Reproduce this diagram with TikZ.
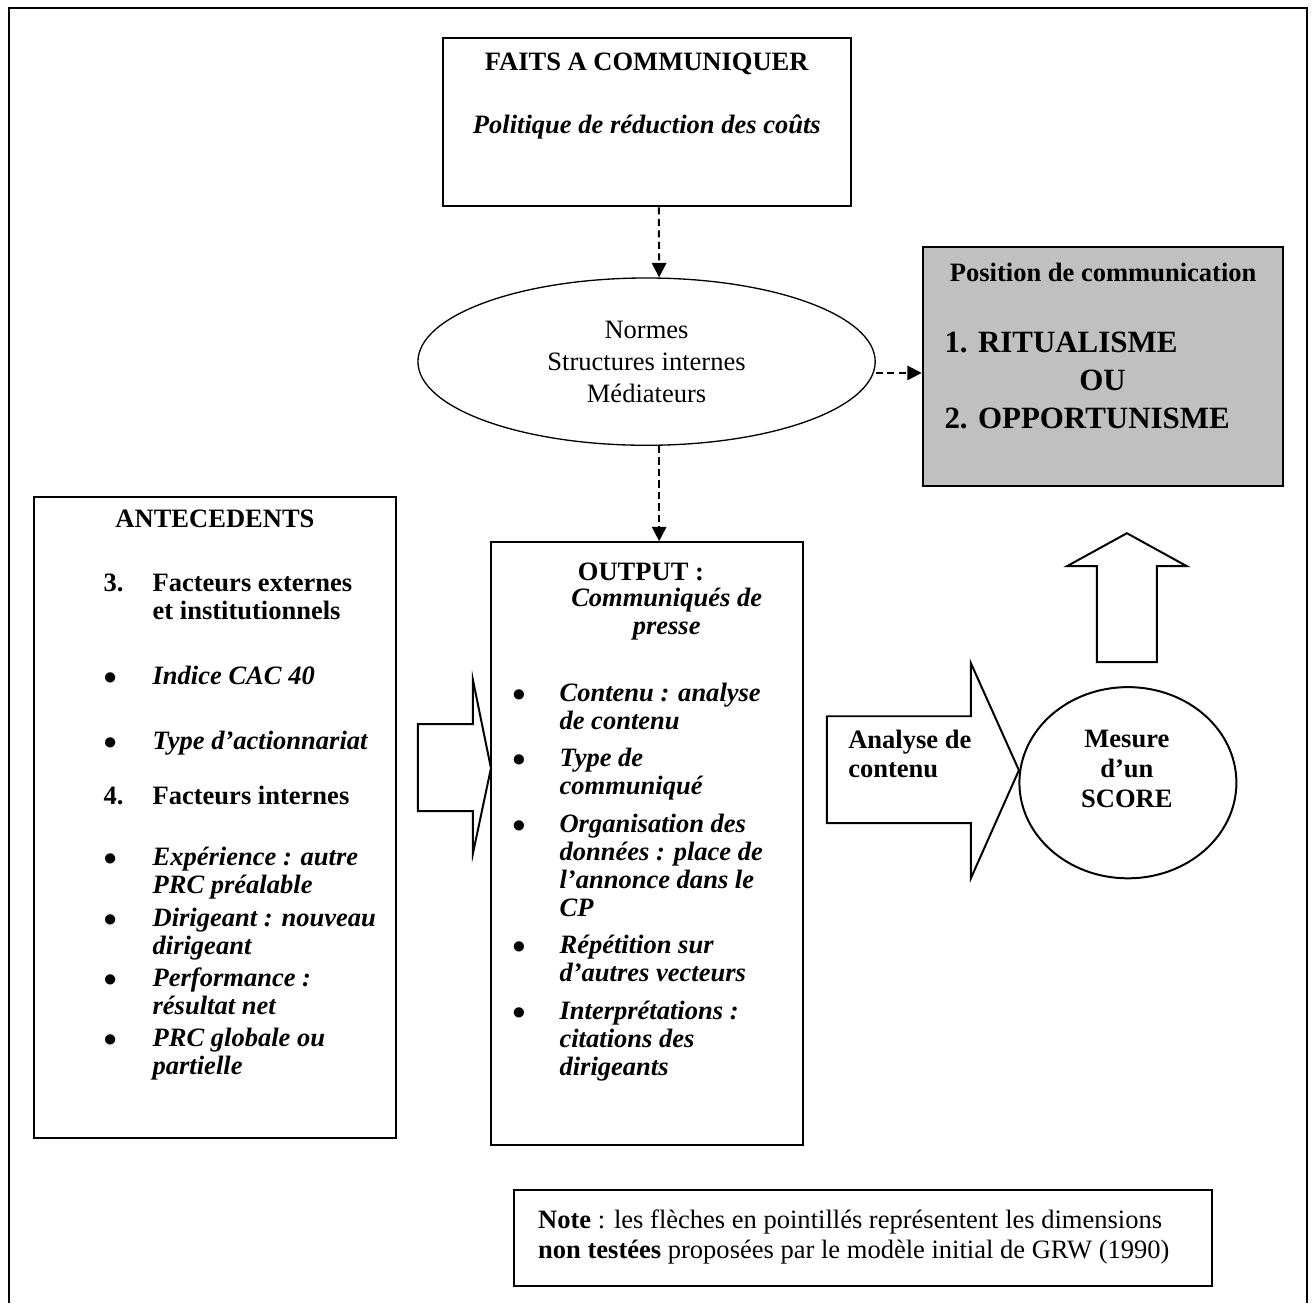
\documentclass[tikz,border=0pt]{standalone}
\usepackage{fontspec}
\setmainfont{Liberation Serif}
\usetikzlibrary{shapes.geometric,arrows.meta}
\definecolor{boxgray}{RGB}{192,192,192}
\newcommand{\bfit}[1]{\textbf{\textit{#1}}}
\newcommand{\bul}{$\bullet$}
\tikzset{
  boxline/.style={draw,line width=0.9pt,inner sep=0pt},
  txt/.style={inner sep=0pt,font=\fontsize{12}{14.5}\selectfont},
  lst/.style={inner sep=0pt,anchor=base west,font=\fontsize{12}{12.67}\selectfont},
  dasharrow/.style={line width=0.9pt,dash pattern=on 3.2pt off 2pt,-{Triangle[length=6.5pt,width=6.5pt]}},
  bigarrow/.style={line width=0.9pt,line join=miter}
}
\begin{document}
\begin{tikzpicture}
\useasboundingbox (0,0) rectangle (20.86,20.72);
\draw [line width=0.9pt](0.143,0) -- (0.143,20.6) -- (20.78,20.6) -- (20.78,0);
\node [boxline,minimum width=6.49cm,minimum height=2.67cm] (faits) at (10.285,18.775) {};
\node [txt] (faitsT) at (10.285,19.70) {\textbf{FAITS A COMMUNIQUER}};
\node [txt] (politique) at (10.285,18.70) {\bfit{Politique de réduction des coûts}};
\node [ellipse,draw,line width=0.6pt,inner sep=0pt,minimum width=7.27cm,minimum height=2.66cm,align=center,font=\fontsize{12}{14.5}\selectfont] (normes) at (10.28,14.97) {Normes\\Structures internes\\Médiateurs};
\node [boxline,fill=boxgray,minimum width=5.73cm,minimum height=3.81cm] (position) at (17.535,14.895) {};
\node [txt] (positionT) at (17.54,16.38) {\textbf{Position de communication}};
\node [inner sep=0pt,anchor=west,align=left,font=\fontsize{14}{17}\selectfont\bfseries] (choix) at (15.01,14.67) {1. RITUALISME\\\hspace*{61pt}OU\\2. OPPORTUNISME};
\node [boxline,minimum width=5.755cm,minimum height=10.19cm] (antec) at (3.418,7.719) {};
\node [txt] (antecT) at (3.418,12.466) {\textbf{ANTECEDENTS}};
\node [lst] (antecL) at (1.64,11.32) {\begin{tabular}[t]{@{}p{0.78cm}@{}l@{}}
\textbf{3.} & \textbf{Facteurs externes}\\
 & \textbf{et institutionnels}\\[16.7pt]
\bul & \bfit{Indice CAC 40}\\[17pt]
\bul & \bfit{Type d’actionnariat}\\[12.2pt]
\textbf{4.} & \textbf{Facteurs internes}\\[14.9pt]
\bul & \bfit{Expérience : autre}\\
 & \bfit{PRC préalable}\\[2pt]
\bul & \bfit{Dirigeant : nouveau}\\
 & \bfit{dirigeant}\\[2pt]
\bul & \bfit{Performance :}\\
 & \bfit{résultat net}\\[2pt]
\bul & \bfit{PRC globale ou}\\
 & \bfit{partielle}
\end{tabular}};
\node [boxline,minimum width=4.96cm,minimum height=9.59cm] (output) at (10.29,7.305) {};
\node [txt] (outputT) at (10.19,11.62) {\textbf{OUTPUT :}};
\node [txt,align=center,font=\fontsize{12}{12.67}\selectfont] (communiques) at (10.6,10.95) {\bfit{Communiqués de}\\\bfit{presse}};
\node [lst] (outputL) at (8.14,9.571) {\begin{tabular}[t]{@{}p{0.75cm}@{}l@{}}
\bul & \bfit{Contenu : analyse}\\
 & \bfit{de contenu}\\[4.3pt]
\bul & \bfit{Type de}\\
 & \bfit{communiqué}\\[4.3pt]
\bul & \bfit{Organisation des}\\
 & \bfit{données : place de}\\
 & \bfit{l’annonce dans le}\\
 & \bfit{CP}\\[4.3pt]
\bul & \bfit{Répétition sur}\\
 & \bfit{d’autres vecteurs}\\[4.3pt]
\bul & \bfit{Interprétations :}\\
 & \bfit{citations des}\\
 & \bfit{dirigeants}
\end{tabular}};
\node [ellipse,draw,line width=0.9pt,inner sep=0pt,minimum width=3.45cm,minimum height=3.04cm] (mesure) at (17.933,8.275) {};
\node [txt,align=center,font=\fontsize{12}{13.6}\selectfont] (mesureT) at (17.917,8.49) {\textbf{Mesure}\\\textbf{d’un}\\\textbf{SCORE}};
\node [txt,anchor=west,align=left,font=\fontsize{12}{13.1}\selectfont] (analyse) at (13.48,8.728) {\textbf{Analyse de}\\\textbf{contenu}};
\node [boxline,minimum width=11.1cm,minimum height=1.53cm] (note) at (13.72,1.034) {};
\node [txt,anchor=west,align=left,font=\fontsize{12}{13.6}\selectfont] (noteT) at (8.55,1.049) {\textbf{Note} : les flèches en pointillés représentent les dimensions\\\textbf{non testées} proposées par le modèle initial de GRW (1990)};
\draw [dasharrow]([xshift=0.19cm]faits.south) -- ([xshift=0.2cm]normes.north);
\draw [dasharrow]([xshift=0.2cm]normes.south) -- ([xshift=0.19cm]output.north);
\draw [dasharrow]([yshift=-0.18cm]normes.east) -- ([yshift=-0.105cm]position.west);
\draw [bigarrow](6.645,9.205) -- (7.52,9.205) -- (7.52,9.905) -- (7.806,8.506) -- (7.52,7.154) -- (7.52,7.822) -- (6.645,7.822) -- cycle;
\draw [bigarrow](13.148,9.332) -- (15.437,9.332) -- (15.437,10.175) -- (16.2,8.474) -- (15.437,6.757) -- (15.437,7.631) -- (13.148,7.631) -- cycle;
\draw [bigarrow](17.44,10.191) -- (17.44,11.717) -- (16.963,11.717) -- (17.917,12.242) -- (18.871,11.717) -- (18.394,11.717) -- (18.394,10.191) -- cycle;
\end{tikzpicture}
\end{document}
